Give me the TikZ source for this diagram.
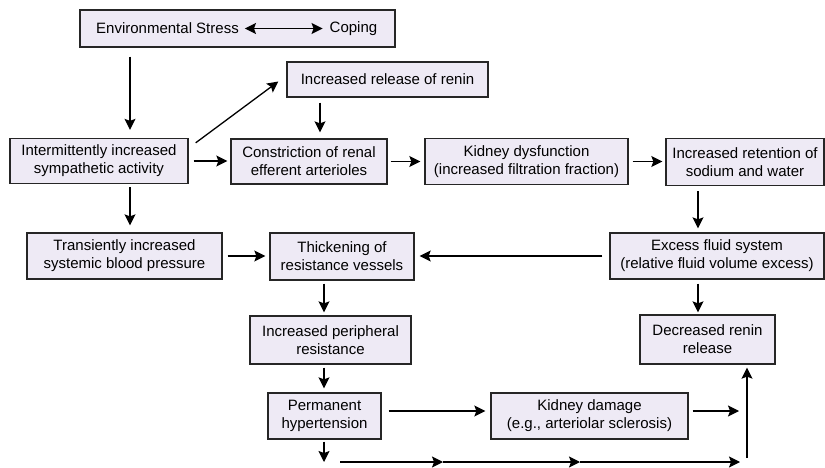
\documentclass[tikz,border=0pt]{standalone}
\usepackage{fontspec}
\setmainfont{Liberation Sans}
\usetikzlibrary{arrows.meta}
\definecolor{boxfill}{RGB}{238,234,245}

\begin{document}
\begin{tikzpicture}[x=1pt,y=-1pt,
  box/.style={draw=black!85,line width=1.3pt,fill=boxfill,align=center,
    inner sep=0pt,font=\fontsize{15}{18}\selectfont},
  tip/.tip={Stealth[length=11pt,width=11pt,inset=2pt]},
  arr/.style={-tip,line width=1.3pt}]
  \useasboundingbox (0,0) rectangle (825,468);
  % columns the vertical arrows run in
  \coordinate (c1) at (130,0);
  \coordinate (c2) at (320,0);
  \coordinate (c3) at (698,0);
  \coordinate (c4) at (324,0);
  % boxes
  \node[box,minimum width=315pt,minimum height=37pt] (env) at (237.5,28.5) {};
  \node[font=\fontsize{15}{18}\selectfont,inner sep=1pt] (stress) at (167.5,28.5) {Environmental Stress};
  \node[font=\fontsize{15}{18}\selectfont,inner sep=1pt] (coping) at (353.5,28.5) {Coping};
  \node[box,minimum width=201pt,minimum height=35pt] (renin) at (387.5,79.5) {Increased release of renin};
  \node[box,minimum width=178pt,minimum height=45pt] (symp) at (99,161) {Intermittently increased\\sympathetic activity};
  \node[box,minimum width=156pt,minimum height=45pt] (constr) at (309,161.5) {Constriction of renal\\efferent arterioles};
  \node[box,minimum width=203pt,minimum height=46pt] (kdys) at (526.5,161.5) {Kidney dysfunction\\(increased filtration fraction)};
  \node[box,minimum width=158pt,minimum height=47pt] (reten) at (745,162) {Increased retention of\\sodium and water};
  \node[box,minimum width=195pt,minimum height=46pt] (trans) at (124.5,256) {Transiently increased\\systemic blood pressure};
  \node[box,minimum width=144pt,minimum height=47pt] (thick) at (342,256.5) {Thickening of\\resistance vessels};
  \node[box,minimum width=214pt,minimum height=46pt] (excess) at (717,256) {Excess fluid system\\(relative fluid volume excess)};
  \node[box,minimum width=161pt,minimum height=48pt] (periph) at (330.5,340) {Increased peripheral\\resistance};
  \node[box,minimum width=135pt,minimum height=49pt] (decr) at (707.5,339.5) {Decreased renin\\release};
  \node[box,minimum width=113pt,minimum height=46pt] (perm) at (324.5,416) {Permanent\\hypertension};
  \node[box,minimum width=197pt,minimum height=46pt] (kdam) at (589.5,416) {Kidney damage\\(e.g., arteriolar sclerosis)};
  % free ends
  \coordinate (kdend) at (739,411);
  \coordinate (vbot) at (747,458);
  \coordinate (pdown) at (324,462);
  \coordinate (b0) at (340,462);
  \coordinate (b1) at (443,462);
  \coordinate (b2) at (580,462);
  \coordinate (b3) at (740,462);
  % arrows
  \draw[arr,tip-tip,shorten <=5pt,shorten >=6pt] (stress) -- (coping);
  \draw[arr,shorten <=9pt,shorten >=8pt] (env.south -| c1) -- (symp.north -| c1);
  \draw[arr] ([xshift=7pt,yshift=-5pt]symp.north east) -- ([xshift=-8pt,yshift=-2pt]renin.west);
  \draw[arr,shorten <=5pt,shorten >=6pt] (renin.south -| c2) -- (constr.north -| c2);
  \draw[arr,shorten <=5pt,shorten >=3pt] (symp.east) -- (symp.east -| constr.west);
  \draw[arr,shorten <=3pt,shorten >=4pt] (constr.east) -- (constr.east -| kdys.west);
  \draw[arr,shorten <=4pt,shorten >=3pt] (kdys.east) -- (kdys.east -| reten.west);
  \draw[arr,shorten <=5pt,shorten >=4pt] (reten.south -| c3) -- (excess.north -| c3);
  \draw[arr,shorten <=3pt,shorten >=7pt] (symp.south -| c1) -- (trans.north -| c1);
  \draw[arr,shorten <=5pt,shorten >=4pt] (trans.east) -- (trans.east -| thick.west);
  \draw[arr,shorten <=7pt,shorten >=5pt] (excess.west) -- (excess.west -| thick.east);
  \draw[arr,shorten <=3pt,shorten >=3pt] (thick.south -| c4) -- (periph.north -| c4);
  \draw[arr,shorten <=3pt,shorten >=4pt] (periph.south -| c4) -- (perm.north -| c4);
  \draw[arr,shorten <=4pt,shorten >=2pt] (excess.south -| c3) -- (decr.north -| c3);
  \draw[arr,shorten <=7pt,shorten >=5pt] ([yshift=5pt]perm.east) -- ([yshift=5pt]kdam.west);
  \draw[arr,shorten <=4pt] (kdam.east |- kdend) -- (kdend);
  \draw[arr,shorten >=3pt] (vbot) -- (vbot |- decr.south);
  \draw[arr,shorten <=2pt] (perm.south -| c4) -- (pdown);
  \draw[arr] (b0) -- (b1);
  \draw[arr] (b1) -- (b2);
  \draw[arr] (b2) -- (b3);
\end{tikzpicture}
\end{document}
